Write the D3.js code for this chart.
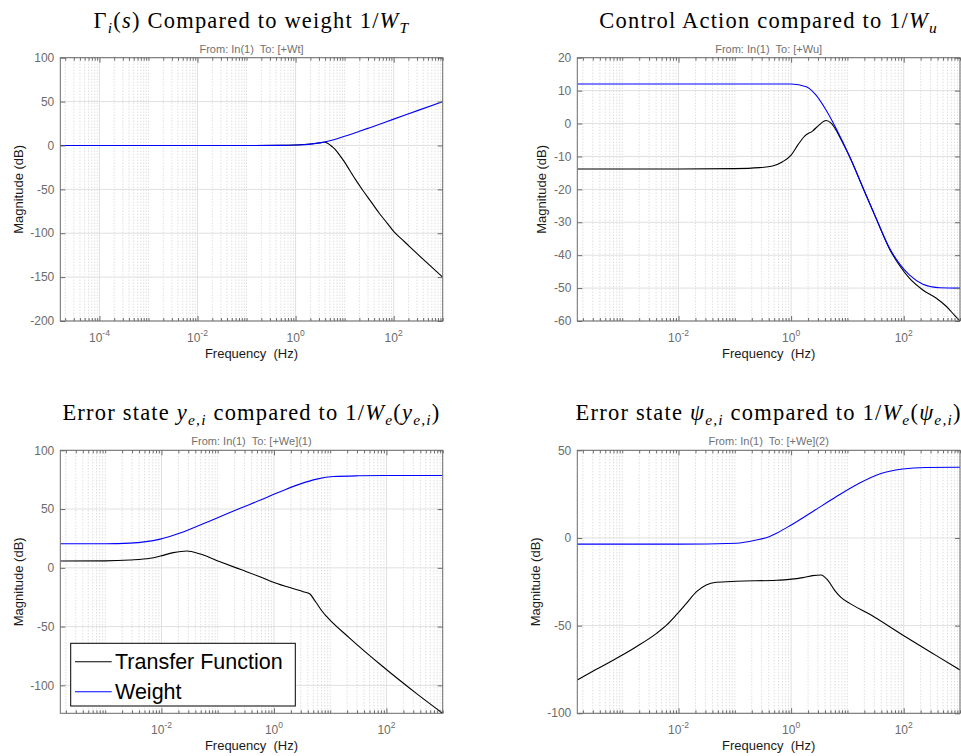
<!DOCTYPE html>
<html>
<head>
<meta charset="utf-8">
<script src="https://cdn.jsdelivr.net/npm/d3@7"></script>
<style>
	body { margin:0; background:#fff; }
	svg { display:block; font-family: Arial, "Liberation Sans", Helvetica, sans-serif; }
	.title { font-family: "Liberation Serif", "Times New Roman", serif; font-size:22.5px; letter-spacing:1.2px; fill:#000; }
	.subtitle { font-size:11px; fill:#707070; white-space:pre; }
	.tick text, .ylab, .xlab { font-size:12px; fill:#6b6b6b; }
	.axisname { font-size:13px; fill:#1a1a1a; white-space:pre; }
	.legend text { font-size:21.5px; fill:#000; }
</style>
</head>
<body>
<div id="svgContainer"></div>
<script>
// values (frequency in Hz, magnitude in dB)

// Gamma_i(s) vs 1/W_T
var gammaTfHz  = [1.59e-5, 1e-3, 0.1, 0.5, 1, 2, 3.3, 3.9, 4.5, 5.6, 6.6, 7.9, 10, 12.6, 17, 23.4, 35, 51.3, 75, 102, 150, 209, 457, 1000];
var gammaTfDb  = [0, 0, 0, 0.1, 0.5, 1.6, 3.2, 3.7, 2.6, -1.5, -5.3, -11, -19, -28, -39.5, -51, -64.5, -77.5, -89, -98.5, -107.3, -115, -132.7, -150];
var gammaWtHz  = [1.59e-5, 1e-3, 0.1, 0.5, 1, 2, 3.3, 5, 7.8, 10, 20, 31.6, 100, 316, 1000];
var gammaWtDb  = [0, 0, 0, 0.1, 0.5, 1.5, 3.2, 5.4, 8.5, 10.4, 16.1, 20, 30, 40, 50];

// control action vs 1/W_u
var ctrlTfHz = [1.59e-4, 0.01, 0.1, 0.275, 0.468, 0.708, 1, 1.32, 1.74, 2.4, 3.16, 4.17, 5.13, 6.3, 8, 11, 18.6, 32.4, 56.2, 85, 126, 219, 380, 575, 794, 1000];
var ctrlTfDb = [-13.8, -13.8, -13.7, -13.4, -12.9, -11.6, -9.6, -6.5, -3.8, -2.3, -0.4, 0.9, 0.1, -2, -5.4, -10.2, -19.3, -28.9, -38.2, -43.2, -47, -50.6, -53.1, -55.6, -58.2, -60];
var ctrlWtHz = [1.59e-4, 0.01, 0.1, 1, 1.86, 2.75, 4.17, 6.3, 11, 18.6, 32.4, 56.2, 85, 126, 219, 437, 1000];
var ctrlWtDb = [12, 12, 12, 12, 11.2, 8.7, 4.1, -1.5, -10.1, -19.2, -28.8, -37.9, -42.7, -46, -48.8, -49.9, -50];

// error state y_e,i vs 1/W_e(y_e,i)
var yeTfHz = [1.59e-4, 1e-3, 2.75e-3, 6.3e-3, 9.5e-3, 0.0162, 0.0282, 0.049, 0.11, 0.251, 0.562, 1, 3.31, 4.37, 5.0, 5.75, 7.08, 8.7, 22.4, 87, 339, 1000];
var yeTfDb = [5.8, 5.9, 6.6, 8.1, 10, 12.9, 14.3, 11.7, 5.2, -1.3, -7.6, -12.5, -20.3, -22.3, -26, -30.2, -36.5, -41.6, -60, -84.2, -106.8, -123.8];
var yeWtHz = [1.59e-4, 1e-3, 2.75e-3, 9.5e-3, 0.0214, 0.049, 0.11, 0.251, 0.562, 1.05, 1.58, 2.88, 5.75, 11.5, 31.6, 100, 1000];
var yeWtDb = [20.5, 20.5, 21, 24.4, 29.6, 36.4, 43.5, 50.7, 57.4, 63, 66.5, 71.2, 75.5, 77.7, 78.3, 78.5, 78.5];

// error state psi_e,i vs 1/W_e(psi_e,i)
var psiTfHz = [1.59e-4, 3.47e-4, 7.94e-4, 1.78e-3, 4.07e-3, 6.17e-3, 9.1e-3, 0.0138, 0.0209, 0.031, 0.0468, 0.107, 0.55, 0.933, 1.62, 2.4, 3.39, 4.47, 5.89, 7.76, 11, 24.5, 95.5, 380, 1000];
var psiTfDb = [-81, -74.9, -68.6, -62, -54.4, -49.6, -43.9, -37.3, -30.6, -26.8, -25.3, -24.7, -24.1, -23.6, -22.6, -21.5, -21.1, -24, -29.7, -34, -37.3, -43.4, -55.3, -67.1, -75.3];
var psiWtHz = [1.59e-4, 0.01, 0.107, 0.24, 0.407, 0.55, 0.933, 2.4, 6.3, 16.2, 37.2, 95.5, 251, 1000];
var psiWtDb = [-3.5, -3.5, -3.0, -1.2, 0.7, 2.7, 6.8, 15, 23.5, 31.2, 36.5, 39.3, 40.2, 40.3];

// ticks
var gammaXTicks = [1e-4, 1e-2, 1, 1e2];
var otherXTicks = [1e-2, 1, 1e2];
var gammaYTicks = [-200, -150, -100, -50, 0, 50, 100];
var ctrlYTicks  = [-60, -50, -40, -30, -20, -10, 0, 10, 20];
var yeYTicks    = [-100, -50, 0, 50, 100];
var psiYTicks   = [-100, -50, 0, 50];

var legendNames = ["Transfer Function", "Weight"];
var lineColors  = ["#000000", "#0000ff"];

// [text, flags]  i = italic, s = subscript
var titles = [
	[["Γ"], ["i", "is"], ["("], ["s", "i"], [")"], [" Compared to weight 1/"], ["W", "i"], ["T", "is"]],
	[["Control Action compared to 1/"], ["W", "i"], ["u", "is"]],
	[["Error state "], ["y", "i"], ["e,i", "is"], [" compared to 1/"], ["W", "i"], ["e", "is"], ["("], ["y", "i"], ["e,i", "is"], [")"]],
	[["Error state "], ["ψ", "i"], ["e,i", "is"], [" compared to 1/"], ["W", "i"], ["e", "is"], ["("], ["ψ", "i"], ["e,i", "is"], [")"]]
];

var panels = [
	{ left:60.3, right:442.7, top:57.7, bottom:321, x:[1.5915e-5, 1000], y:[-200, 100],
	  xTicks:gammaXTicks, yTicks:gammaYTicks, ylabOff:42, to:"[+Wt]",
	  tf:[gammaTfHz, gammaTfDb], wt:[gammaWtHz, gammaWtDb] },
	{ left:577.3, right:960, top:57.7, bottom:321, x:[1.5915e-4, 1000], y:[-60, 20],
	  xTicks:otherXTicks, yTicks:ctrlYTicks, ylabOff:35.6, to:"[+Wu]",
	  tf:[ctrlTfHz, ctrlTfDb], wt:[ctrlWtHz, ctrlWtDb] },
	{ left:60.3, right:442.7, top:450.3, bottom:713.3, x:[1.5915e-4, 1000], y:[-123.8, 100],
	  xTicks:otherXTicks, yTicks:yeYTicks, ylabOff:42, to:"[+We](1)", legend:true,
	  tf:[yeTfHz, yeTfDb], wt:[yeWtHz, yeWtDb] },
	{ left:577.3, right:960, top:450.3, bottom:713.3, x:[1.5915e-4, 1000], y:[-100, 50],
	  xTicks:otherXTicks, yTicks:psiYTicks, ylabOff:41.6, to:"[+We](2)",
	  tf:[psiTfHz, psiTfDb], wt:[psiWtHz, psiWtDb] }
];

var svgContainer = d3.select("#svgContainer").append("svg")
	.attr("width", 961)
	.attr("height", 756);

function richText(textSel, parts) {
	var shifted = false;
	parts.forEach(function (p) {
		var flags = p[1] || "";
		var sub = flags.indexOf("s") >= 0;
		var ts = textSel.append("tspan").text(p[0]);
		if (flags.indexOf("i") >= 0) ts.style("font-style", "italic");
		if (sub) ts.style("font-size", "15.5px");
		if (sub && !shifted) { ts.attr("dy", 5); shifted = true; }
		else if (!sub && shifted) { ts.attr("dy", -5); shifted = false; }
	});
}

// all 1..9 x 10^n inside the domain that are not labelled
function minorValues(domain, majors) {
	var vals = [];
	var e0 = Math.floor(Math.log10(domain[0])), e1 = Math.ceil(Math.log10(domain[1]));
	for (var e = e0; e <= e1; e++) {
		for (var k = 1; k < 10; k++) {
			var v = k * Math.pow(10, e);
			if (v < domain[0] || v > domain[1] * 1.0001) continue;
			if (majors.some(function (m) { return Math.abs(m - v) / m < 1e-6; })) continue;
			vals.push(v);
		}
	}
	return vals;
}

function drawPanel(p, i) {
	var w = p.right - p.left, h = p.bottom - p.top;
	var xScale = d3.scaleLog().domain(p.x).range([0, w]);
	var yScale = d3.scaleLinear().domain(p.y).range([h, 0]);
	var minors = minorValues(p.x, p.xTicks);

	var g = svgContainer.append("g")
		.attr("transform", "translate(" + p.left + "," + p.top + ")");

	// minor grid (dotted)
	g.append("g").selectAll("line")
		.data(minors).enter().append("line")
		.attr("x1", function (d) { return xScale(d); })
		.attr("x2", function (d) { return xScale(d); })
		.attr("y1", 0).attr("y2", h)
		.attr("stroke", "#cfcfcf")
		.attr("stroke-dasharray", "1,2");

	// major grid
	g.append("g").selectAll("line")
		.data(p.xTicks).enter().append("line")
		.attr("x1", function (d) { return xScale(d); })
		.attr("x2", function (d) { return xScale(d); })
		.attr("y1", 0).attr("y2", h)
		.attr("stroke", "#e0e0e0");
	g.append("g").selectAll("line")
		.data(p.yTicks).enter().append("line")
		.attr("x1", 0).attr("x2", w)
		.attr("y1", function (d) { return yScale(d); })
		.attr("y2", function (d) { return yScale(d); })
		.attr("stroke", "#e0e0e0");

	// curves
	var clipId = "clip" + i;
	g.append("clipPath").attr("id", clipId)
		.append("rect").attr("width", w).attr("height", h);

	var lineFunction = d3.line()
		.x(function (d) { return xScale(d[0]); })
		.y(function (d) { return yScale(d[1]); })
		.curve(d3.curveMonotoneX);

	[p.tf, p.wt].forEach(function (s, j) {
		g.append("path")
			.datum(d3.zip(s[0], s[1]))
			.attr("clip-path", "url(#" + clipId + ")")
			.attr("fill", "none")
			.attr("stroke", lineColors[j])
			.attr("stroke-width", 1.1)
			.attr("d", lineFunction);
	});

	// ticks on all four sides, pointing in
	var axes = [
		d3.axisBottom(xScale).tickValues(p.xTicks).tickSizeInner(-5),
		d3.axisTop(xScale).tickValues(p.xTicks).tickSizeInner(-5),
		d3.axisBottom(xScale).tickValues(minors).tickSizeInner(-3),
		d3.axisTop(xScale).tickValues(minors).tickSizeInner(-3),
		d3.axisLeft(yScale).tickValues(p.yTicks).tickSizeInner(-5),
		d3.axisRight(yScale).tickValues(p.yTicks).tickSizeInner(-5)
	];
	var shifts = ["0," + h, "0,0", "0," + h, "0,0", "0,0", w + ",0"];
	axes.forEach(function (a, k) {
		var ag = g.append("g")
			.attr("transform", "translate(" + shifts[k] + ")")
			.call(a.tickSizeOuter(0).tickFormat(""));
		ag.select(".domain").remove();
		ag.selectAll("line").attr("stroke", "#6b6b6b");
	});

	// box
	g.append("rect")
		.attr("width", w).attr("height", h)
		.attr("fill", "none")
		.attr("stroke", "#6b6b6b");

	// y tick labels
	g.append("g").selectAll("text")
		.data(p.yTicks).enter().append("text")
		.attr("class", "ylab")
		.attr("x", -6)
		.attr("y", function (d) { return yScale(d); })
		.attr("dy", "0.35em")
		.attr("text-anchor", "end")
		.text(function (d) { return d; });

	// x tick labels 10^n
	g.append("g").selectAll("text")
		.data(p.xTicks).enter().append("text")
		.attr("class", "xlab")
		.attr("x", function (d) { return xScale(d); })
		.attr("y", h + 21)
		.attr("text-anchor", "middle")
		.each(function (d) {
			var t = d3.select(this);
			t.append("tspan").text("10");
			t.append("tspan").attr("dy", -6).style("font-size", "8.5px")
				.text(Math.round(Math.log10(d)));
		});

	// axis names
	g.append("text")
		.attr("class", "axisname")
		.attr("x", w / 2).attr("y", h + 37)
		.attr("text-anchor", "middle")
		.text("Frequency  (Hz)");
	g.append("text")
		.attr("class", "axisname")
		.attr("transform", "translate(" + (-p.ylabOff) + "," + (h / 2) + ") rotate(-90)")
		.attr("dominant-baseline", "central")
		.attr("text-anchor", "middle")
		.text("Magnitude (dB)");

	// "From: ... To: ..." line above the axes
	g.append("text")
		.attr("class", "subtitle")
		.attr("x", w / 2).attr("y", -5)
		.attr("text-anchor", "middle")
		.text("From: In(1)  To: " + p.to);

	// title
	richText(g.append("text")
		.attr("class", "title")
		.attr("x", w / 2).attr("y", -30)
		.attr("text-anchor", "middle"), titles[i]);

	if (p.legend) {
		var lg = g.append("g").attr("class", "legend")
			.attr("transform", "translate(10.4,193)");
		lg.append("rect")
			.attr("width", 224.6).attr("height", 62.7)
			.attr("fill", "#fff")
			.attr("stroke", "#000");
		legendNames.forEach(function (name, j) {
			var cy = 18.4 + j * 30;
			lg.append("line")
				.attr("x1", 4.3).attr("x2", 41)
				.attr("y1", cy).attr("y2", cy)
				.attr("stroke", lineColors[j])
				.attr("stroke-width", 1.1);
			lg.append("text")
				.attr("x", 44.3).attr("y", cy)
				.attr("dominant-baseline", "central")
				.text(name);
		});
	}
}

panels.forEach(drawPanel);
</script>
</body>
</html>
